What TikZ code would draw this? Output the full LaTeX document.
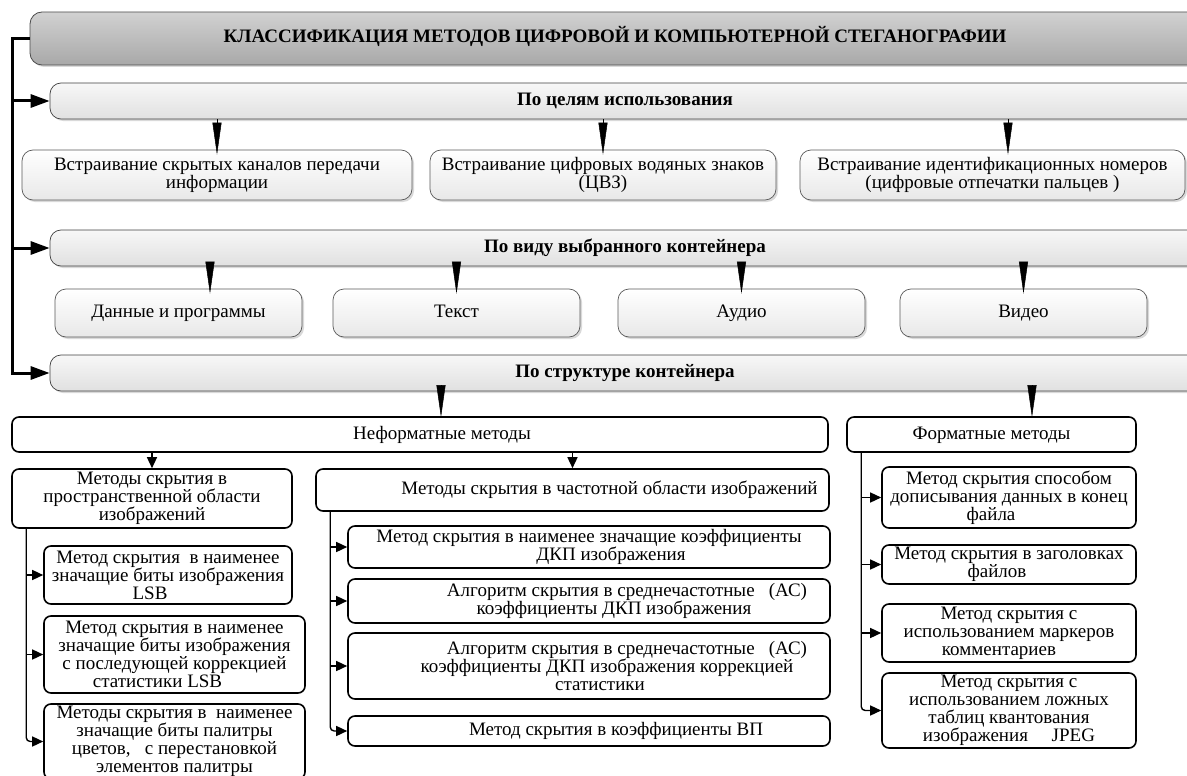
\documentclass[tikz,border=0pt]{standalone}
\usepackage{fontspec}
\setmainfont{Liberation Serif}
\usetikzlibrary{arrows.meta,shadows}

\tikzset{
  dim/.style 2 args={minimum width=#1pt, minimum height=#2pt},
  oneline/.style={text height=13pt, text depth=4pt},
  txt/.style={font=\fontsize{19}{18}\selectfont, align=center, inner sep=0pt},
  softshadow/.style={drop shadow={shadow xshift=2pt, shadow yshift=-2pt, opacity=0.25, fill=black!60}},
  headbox/.style={txt, font=\fontsize{19}{18}\selectfont\bfseries, draw=black!70, line width=0.8pt,
    rounded corners=12pt, top color=black!18, bottom color=black!34, softshadow, oneline},
  bandbox/.style={txt, font=\fontsize{19}{18}\selectfont\bfseries, draw=black!75, line width=0.7pt,
    rounded corners=11pt, top color=black!3, bottom color=black!12, softshadow, oneline},
  graybox/.style={txt, draw=black!65, line width=0.7pt, rounded corners=11pt,
    top color=white, bottom color=black!9, softshadow},
  whitebox/.style={txt, draw=black, line width=1.6pt, rounded corners=7pt, fill=white},
  wedge/.style={line width=0.5pt, -{Triangle[length=32pt,width=9pt]}, shorten >=-5pt},
  busarrow/.style={line width=3pt, -{Triangle[length=19pt,width=13pt]}},
  brancharrow/.style={line width=1.4pt, -{Triangle[length=11pt,width=10pt]}},
}

\begin{document}
\begin{tikzpicture}[x=1pt,y=-1pt]
\useasboundingbox (0,0) rectangle (1187,776);
\begin{scope}
\clip (0,0) rectangle (1187,776);

% title and the three criteria bands
\node[headbox, dim={1170}{53}] (title) at (615,38.5)
  {КЛАССИФИКАЦИЯ МЕТОДОВ ЦИФРОВОЙ И КОМПЬЮТЕРНОЙ СТЕГАНОГРАФИИ};
\node[bandbox, dim={1150}{36}] (goal) at (625,101) {По целям использования};
\node[bandbox, dim={1150}{36}] (kind) at (625,248) {По виду выбранного контейнера};
\node[bandbox, dim={1150}{36}] (struct) at (625,373) {По структуре контейнера};

% by purpose
\node[graybox, dim={390}{50}] (g1) at (217,175) {Встраивание скрытых каналов передачи\\информации};
\node[graybox, dim={346}{50}] (g2) at (603,175) {Встраивание цифровых водяных знаков\\(ЦВЗ)};
\node[graybox, dim={385}{50}] (g3) at (992.5,175) {Встраивание идентификационных номеров\\(цифровые отпечатки пальцев )};

% by container type
\node[graybox, oneline, dim={247}{48}] (k1) at (178.5,313) {Данные и программы};
\node[graybox, oneline, dim={247}{48}] (k2) at (456.5,313) {Текст};
\node[graybox, oneline, dim={247}{48}] (k3) at (741.5,313) {Аудио};
\node[graybox, oneline, dim={247}{48}] (k4) at (1023.5,313) {Видео};

% by container structure
\node[whitebox, oneline, dim={816}{35}] (nonfmt) at (420,434.5) {\hspace*{44pt}Неформатные методы};
\node[whitebox, oneline, dim={289}{35}] (fmt) at (991.5,434.5) {Форматные методы};

\node[whitebox, dim={280}{59}] (spat) at (152,498.5) {Методы скрытия в\\пространственной области\\изображений};
\node[whitebox, oneline, dim={513}{42}] (freq) at (572.5,490) {\hspace*{74pt}Методы скрытия в частотной области изображений};

\node[whitebox, dim={248}{58}] (lsb) at (168,575)
  {Метод скрытия \ в наименее\\значащие биты изображения\\LSB\hspace*{36pt}};
\node[whitebox, dim={261}{77}] (lsbc) at (174.5,654.5)
  {Метод скрытия в наименее\\значащие биты изображения\\с последующей коррекцией\\статистики LSB\hspace*{34pt}};
\node[whitebox, dim={261}{75}] (pal) at (174.5,741.5)
  {Методы скрытия в \ наименее\\значащие биты палитры\\цветов, \ \ с перестановкой\\элементов палитры};

\node[whitebox, dim={482}{42}] (dct) at (589,547)
  {Метод скрытия в наименее значащие коэффициенты\\\hspace*{44pt}ДКП изображения};
\node[whitebox, dim={482}{44}] (ac) at (589,601)
  {\hspace*{76pt}Алгоритм скрытия в среднечастотные \ \ (АС)\\\hspace*{50pt}коэффициенты ДКП изображения};
\node[whitebox, dim={482}{66}] (acs) at (589,666)
  {\hspace*{76pt}Алгоритм скрытия в среднечастотные \ \ (АС)\\\hspace*{36pt}коэффициенты ДКП изображения коррекцией\\\hspace*{22pt}статистики};
\node[whitebox, oneline, dim={482}{30}] (wp) at (589,731) {\hspace*{54pt}Метод скрытия в коэффициенты ВП};

\node[whitebox, dim={254}{61}] (r1) at (1009,497.5)
  {Метод скрытия способом\\дописывания данных в конец\\файла\hspace*{36pt}};
\node[whitebox, dim={254}{39}] (r2) at (1009,564.5)
  {Метод скрытия в заголовках\\файлов\hspace*{24pt}};
\node[whitebox, dim={254}{58}] (r3) at (1009,633)
  {Метод скрытия с\\использованием маркеров\\комментариев\hspace*{20pt}};
\node[whitebox, dim={254}{75}] (r4) at (1009,710.5)
  {Метод скрытия с\\использованием ложных\\таблиц квантования\\изображения \quad JPEG};

% trunk from the title to the criteria bands
\draw[busarrow] (title.west) -- ++(-17,0) coordinate (trunk) |- (struct.west);
\draw[busarrow] (trunk |- goal.west) -- (goal.west);
\draw[busarrow] (trunk |- kind.west) -- (kind.west);

% wedge arrows from the bands
\coordinate (g3in) at ([xshift=15.5pt]g3.north);
\coordinate (k1in) at ([xshift=31.5pt]k1.north);
\coordinate (nfin) at ([xshift=21pt]nonfmt.north);
\coordinate (fmin) at ([xshift=40.5pt]fmt.north);
\draw[wedge] (goal.south -| g1.north) -- (g1.north);
\draw[wedge] (goal.south -| g2.north) -- (g2.north);
\draw[wedge] (goal.south -| g3in) -- (g3in);
\draw[wedge] (kind.south -| k1in) -- (k1in);
\draw[wedge] (kind.south -| k2.north) -- (k2.north);
\draw[wedge] (kind.south -| k3.north) -- (k3.north);
\draw[wedge] (kind.south -| k4.north) -- (k4.north);
\draw[wedge, shorten >=-1pt] (struct.south -| nfin) -- (nfin);
\draw[wedge, shorten >=-1pt] (struct.south -| fmin) -- (fmin);

% non-format methods
\draw[brancharrow] (nonfmt.south -| spat.north) -- (spat.north);
\draw[brancharrow] (nonfmt.south -| freq.north) -- (freq.north);

% spatial domain branch
\coordinate (lv) at ([xshift=15pt]spat.south west);
\draw[brancharrow, rounded corners=4pt] (lv) |- (pal.west);
\draw[brancharrow] (lv |- lsb.west) -- (lsb.west);
\draw[brancharrow] (lv |- lsbc.west) -- (lsbc.west);

% frequency domain branch
\coordinate (mv) at ([xshift=15pt]freq.south west);
\draw[brancharrow, rounded corners=4pt] (mv) |- (wp.west);
\draw[brancharrow] (mv |- dct.west) -- (dct.west);
\draw[brancharrow] (mv |- ac.west) -- (ac.west);
\draw[brancharrow] (mv |- acs.west) -- (acs.west);

% format methods branch
\coordinate (rv) at ([xshift=15pt]fmt.south west);
\draw[brancharrow, rounded corners=4pt] (rv) |- (r4.west);
\draw[brancharrow] (rv |- r1.west) -- (r1.west);
\draw[brancharrow] (rv |- r2.west) -- (r2.west);
\draw[brancharrow] (rv |- r3.west) -- (r3.west);
\end{scope}
\end{tikzpicture}
\end{document}
